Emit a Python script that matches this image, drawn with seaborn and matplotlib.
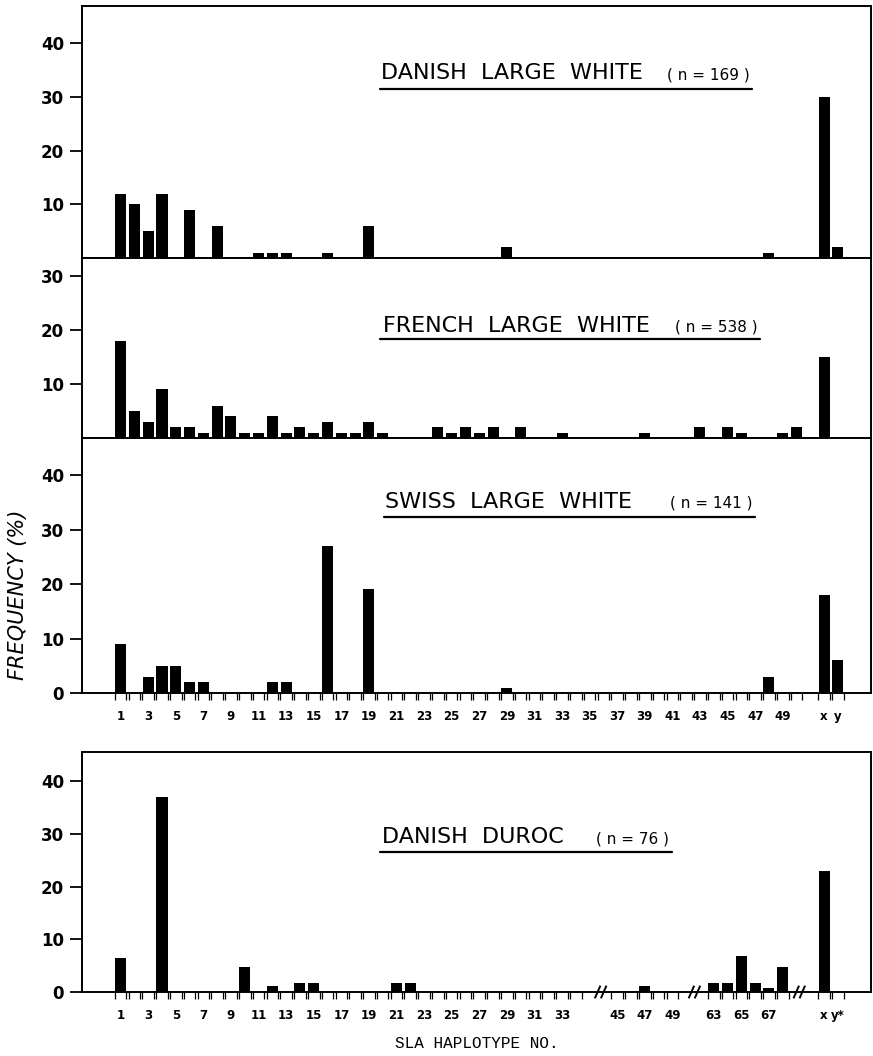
import matplotlib
matplotlib.use("Agg")
import matplotlib.pyplot as plt
from matplotlib.lines import Line2D
import seaborn as sns
import pandas as pd

# ---------------- data (frequency %) ----------------
dlw_hap = ["1", "2", "3", "4", "6", "8", "11", "12", "13", "16", "19", "29", "48", "x", "y"]
dlw_val = [12, 10, 5, 12, 9, 6, 1, 1, 1, 1, 6, 2, 1, 30, 2]

flw_hap = ["1", "2", "3", "4", "5", "6", "7", "8", "9", "10", "11", "12", "13", "14", "15",
           "16", "17", "18", "19", "20", "24", "25", "26", "27", "28", "30", "33", "39",
           "43", "45", "46", "49", "50", "x"]
flw_val = [18, 5, 3, 9, 2, 2, 1, 6, 4, 1, 1, 4, 1, 2, 1,
           3, 1, 1, 3, 1, 2, 1, 2, 1, 2, 2, 1, 1,
           2, 2, 1, 1, 2, 15]

slw_hap = ["1", "3", "4", "5", "6", "7", "12", "13", "16", "19", "29", "48", "x", "y"]
slw_val = [9, 3, 5, 5, 2, 2, 2, 2, 27, 19, 1, 3, 18, 6]

dd_hap = ["1", "4", "10", "12", "14", "15", "21", "22", "47", "63", "64", "65", "66", "67", "68", "x"]
dd_val = [6.5, 37, 4.8, 1.1, 1.8, 1.8, 1.8, 1.8, 1.1, 1.8, 1.8, 6.8, 1.8, 0.8, 4.8, 23]

titles = ["DANISH  LARGE  WHITE", "FRENCH  LARGE  WHITE", "SWISS  LARGE  WHITE", "DANISH  DUROC"]
n_labels = ["( n = 169 )", "( n = 538 )", "( n = 141 )", "( n = 76 )"]

top_ticklabels = [str(i) for i in range(1, 50, 2)] + ["x", "y"]
bot_ticklabels = [str(i) for i in range(1, 34, 2)] + ["45", "47", "49", "63", "65", "67", "x", "y*"]

# ---------------- axis position mappings ----------------
def top_pos(h):
    return {"x": 52, "y": 53}.get(h) or int(h)

def bot_pos(h):
    if h == "x":
        return 52
    if h in ("y", "y*"):
        return 53
    n = int(h)
    if n <= 34:
        return n
    if n <= 49:
        return n - 8
    return n - 19

sns.set_style("ticks")
plt.rcParams["font.family"] = ["DejaVu Sans"]
for k in ("text.color", "axes.labelcolor", "xtick.color", "ytick.color", "axes.edgecolor"):
    plt.rcParams[k] = "black"

W, H = 873, 1056
fig = plt.figure(figsize=(W / 100, H / 100), dpi=100)
L, R = 82 / W, 871 / W

def box(ytop, ybot):
    return [L, 1 - ybot / H, R - L, (ybot - ytop) / H]

ax1 = fig.add_axes(box(6, 258))
ax2 = fig.add_axes(box(258, 438))
ax3 = fig.add_axes(box(438, 693))
ax4 = fig.add_axes(box(752, 992))

XLIM = (-1.8, 55.4)

def draw(ax, haps, vals, posf, ylim, yticks):
    df = pd.DataFrame({"pos": [posf(h) for h in haps], "freq": vals})
    sns.barplot(data=df, x="pos", y="freq", native_scale=True, width=0.8,
                color="black", saturation=1, errorbar=None, ax=ax, linewidth=0)
    ax.set_xlim(*XLIM)
    ax.set_ylim(*ylim)
    ax.set_xlabel("")
    ax.set_ylabel("")
    ax.set_yticks(yticks)
    ax.set_yticklabels([str(t) for t in yticks], fontsize=12, fontweight="bold")
    ax.tick_params(axis="y", length=9, width=1.3, pad=4, direction="out", colors="black")
    for s in ax.spines.values():
        s.set_visible(True)
        s.set_linewidth(1.4)
        s.set_color("black")

draw(ax1, dlw_hap, dlw_val, top_pos, (0, 46.9), [10, 20, 30, 40])
draw(ax2, flw_hap, flw_val, top_pos, (0, 33.3), [10, 20, 30])
draw(ax3, slw_hap, slw_val, top_pos, (0, 46.8), [0, 10, 20, 30, 40])
draw(ax4, dd_hap, dd_val, bot_pos, (0, 45.5), [0, 10, 20, 30, 40])

for ax in (ax1, ax2):
    ax.set_xticks([])
    ax.tick_params(axis="x", which="both", length=0)

def set_xticks(ax, labels, posf, edge_positions):
    ax.set_xticks([posf(l) for l in labels])
    ax.set_xticklabels(labels, fontsize=8.5, fontweight="bold")
    edges = []
    for p in edge_positions:
        edges += [p - 0.42, p + 0.42]
    ax.set_xticks(edges, minor=True)
    ax.tick_params(axis="x", which="major", length=0, pad=12, colors="black")
    ax.tick_params(axis="x", which="minor", length=5, width=0.9, direction="out", colors="black")

set_xticks(ax3, top_ticklabels, top_pos, list(range(1, 51)) + [52, 53])
set_xticks(ax4, bot_ticklabels, bot_pos,
           list(range(1, 35)) + list(range(37, 42)) + list(range(44, 50)) + [52, 53])

# axis-break marks on the Duroc panel
for bx in (35.8, 42.6, 50.2):
    for off in (-0.22, 0.22):
        ax4.plot([bx + off - 0.2, bx + off + 0.2], [-1.2, 1.2], color="black",
                 lw=1.4, clip_on=False, solid_capstyle="butt")

# titles (pixel coordinates)
def fx(x):
    return x / W

def fy(y):
    return 1 - y / H

title_specs = [
    # x_text, baseline, line_y, line_x0, line_x1, n_right
    (381, 79, 89, 380, 752, 750),
    (383, 332, 339, 380, 760, 758),
    (385, 508, 517, 384, 755, 753),
    (382, 843, 852, 380, 672, 669),
]
for (xt, yb, yl, x0, x1, nr), t, nl in zip(title_specs, titles, n_labels):
    fig.text(fx(xt), fy(yb), t, fontsize=16, ha="left", va="baseline")
    fig.text(fx(nr), fy(yb), nl, fontsize=11, ha="right", va="baseline")
    fig.add_artist(Line2D([fx(x0), fx(x1)], [fy(yl), fy(yl)], color="black", lw=1.6,
                          transform=fig.transFigure))

fig.text(fx(18), fy(595), "FREQUENCY (%)", rotation=90, fontsize=15, style="italic",
         ha="center", va="center")
fig.text(fx(477), fy(1043), "SLA HAPLOTYPE NO.", fontsize=11.5,
         family=["Liberation Mono", "DejaVu Sans Mono"], ha="center", va="center")

fig.savefig("out.png", dpi=100, facecolor="white")
